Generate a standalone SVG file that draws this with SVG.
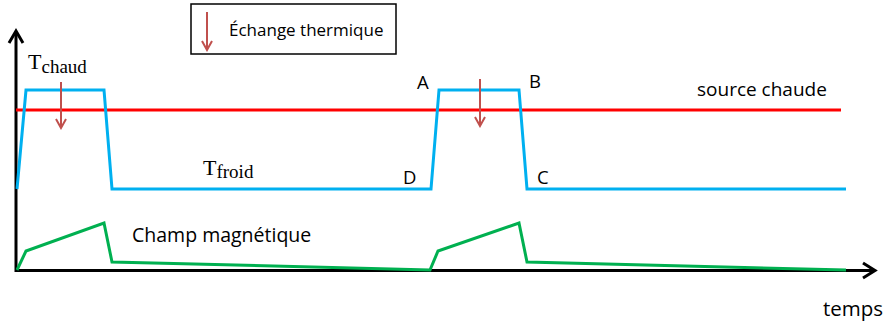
<svg xmlns="http://www.w3.org/2000/svg" width="888" height="325" viewBox="0 0 888 325">
<style>
.axis{stroke:#000;stroke-width:3;fill:none;stroke-linejoin:miter}
.blue{stroke:#00b0f0;stroke-width:3;fill:none;stroke-linejoin:miter}
.red{stroke:#ff0000;stroke-width:3;fill:none}
.green{stroke:#00b050;stroke-width:3;fill:none;stroke-linejoin:miter}
.heat{stroke:#c0504d;stroke-width:2;fill:none}
.sans{font-family:"Open Sans","Liberation Sans",sans-serif;fill:#000}
.serif{font-family:"Liberation Serif","DejaVu Serif",serif;fill:#000}
.pt{font-size:18.5px}
</style>
<defs>
<marker id="heatHead" viewBox="0 0 12 12" refX="10" refY="6" markerWidth="12" markerHeight="12" markerUnits="userSpaceOnUse" orient="auto">
<path d="M1,1 L10,6 L1,11" stroke="#c0504d" stroke-width="2" fill="none"/>
</marker>
</defs>
<rect width="888" height="325" fill="#fff"/>
<g id="axes">
<path class="axis" d="M16,272 V32"/>
<path class="axis" d="M9,43 L16,31 L23,43"/>
<path class="axis" d="M16,270.5 H873"/>
<path class="axis" d="M863,263 L875,270.5 L863,278"/>
<text class="sans" x="823" y="316" font-size="20.5">temps</text>
</g>
<g id="legend">
<rect x="191" y="4" width="205" height="50" fill="#fff" stroke="#000" stroke-width="1.5"/>
<path class="heat" d="M207,12 V50" marker-end="url(#heatHead)"/>
<text class="sans" x="229" y="36" font-size="17">Échange thermique</text>
</g>
<g id="source-chaude">
<path class="red" d="M16,110 H841"/>
<text class="sans" x="697" y="96" font-size="19">source chaude</text>
</g>
<g id="temperature">
<path class="blue" d="M17,189 L26,90 L104,90 L112,189 L431,189 L439,90 L519,90 L527,189 L846,189"/>
<text class="serif" x="28" y="69" font-size="22">T<tspan font-size="19" dy="4">chaud</tspan></text>
<text class="serif" x="203" y="175" font-size="22">T<tspan font-size="19" dy="3">froid</tspan></text>
<text class="sans pt" x="417" y="89">A</text>
<text class="sans pt" x="529" y="88">B</text>
<text class="sans pt" x="537" y="184">C</text>
<text class="sans pt" x="403" y="184">D</text>
</g>
<g id="heat-exchange">
<path class="heat" d="M61,82 V128" marker-end="url(#heatHead)"/>
<path class="heat" d="M480,79 V126" marker-end="url(#heatHead)"/>
</g>
<g id="magnetic-field">
<path class="green" d="M17,270 L26,251 L104,223 L112,262 L430,270 L438,251 L519,223 L527,262 L846,270"/>
<text class="sans" x="132" y="242" font-size="19.5">Champ magnétique</text>
</g>
</svg>
